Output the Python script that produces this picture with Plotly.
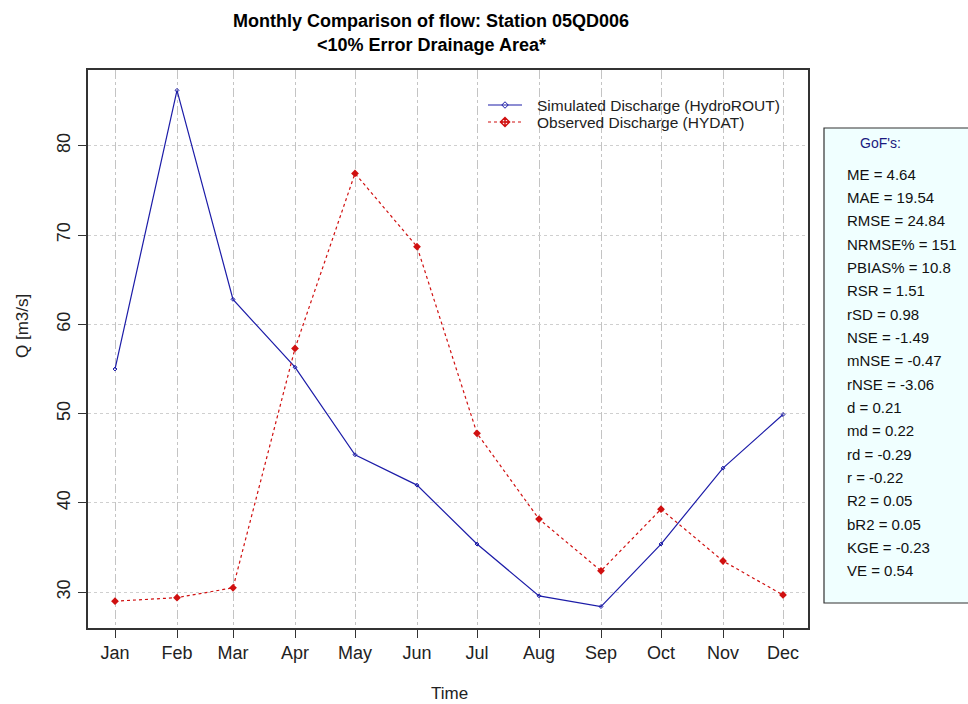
import plotly.graph_objects as go

# Monthly mean discharge, station 05QD006
months = ["Jan", "Feb", "Mar", "Apr", "May", "Jun",
          "Jul", "Aug", "Sep", "Oct", "Nov", "Dec"]
month_dates = ["2001-%02d-01" % m for m in range(1, 13)]

simulated = [55.0, 86.2, 62.8, 55.2, 45.4, 42.0, 35.4, 29.6, 28.4, 35.4, 43.9, 49.9]
observed = [29.0, 29.4, 30.5, 57.3, 76.9, 68.7, 47.8, 38.2, 32.4, 39.3, 33.5, 29.7]

y_ticks = [30, 40, 50, 60, 70, 80]

series_names = ["Simulated Discharge (HydroROUT)", "Observed Discharge (HYDAT)"]

# Goodness-of-fit statistics
gof_names = ["ME", "MAE", "RMSE", "NRMSE%", "PBIAS%", "RSR", "rSD", "NSE", "mNSE",
             "rNSE", "d", "md", "rd", "r", "R2", "bR2", "KGE", "VE"]
gof_values = ["4.64", "19.54", "24.84", "151", "10.8", "1.51", "0.98", "-1.49", "-0.47",
              "-3.06", "0.21", "0.22", "-0.29", "-0.22", "0.05", "0.05", "-0.23", "0.54"]

W, H = 968, 704
L, R, T, B = 88, 160, 70, 76
pw, ph = W - L - R, H - T - B

def px_x(x):
    return (x - L) / pw

def px_y(y):
    return (H - B - y) / ph

FONT = "Liberation Sans, Arial, sans-serif"
SIM_COLOR = "#1c1ca8"
OBS_COLOR = "#d01010"

sim_line = dict(color=SIM_COLOR, width=1.2)
obs_line = dict(color=OBS_COLOR, width=1.2, dash="dot")
sim_marker = dict(symbol="diamond-open", size=3, color=SIM_COLOR, line=dict(width=1))
obs_marker = dict(symbol="diamond", size=6, color=OBS_COLOR)

fig = go.Figure()
fig.add_trace(go.Scatter(
    x=month_dates, y=simulated, mode="lines+markers", name=series_names[0],
    line=sim_line, marker=sim_marker, showlegend=False,
))
fig.add_trace(go.Scatter(
    x=month_dates, y=observed, mode="lines+markers", name=series_names[1],
    line=obs_line, marker=obs_marker, showlegend=False,
))

# Legend key glyphs drawn on a hidden overlay axis in pixel units
legend_rows = [105, 122]
legend_markers = [dict(sim_marker, size=5),
                  dict(symbol="diamond-cross-open", size=7, color=OBS_COLOR,
                       line=dict(color=OBS_COLOR, width=1.5))]
legend_lines = [sim_line, obs_line]
for row, ln, mk in zip(legend_rows, legend_lines, legend_markers):
    fig.add_trace(go.Scatter(
        x=[488, 505, 522], y=[row, row, row], xaxis="x2", yaxis="y2",
        mode="lines", line=ln, showlegend=False, hoverinfo="skip",
    ))
    fig.add_trace(go.Scatter(
        x=[505], y=[row], xaxis="x2", yaxis="y2",
        mode="markers", marker=mk, showlegend=False, hoverinfo="skip",
    ))

fig.update_xaxes(
    type="date", range=["2000-12-18 12:00", "2001-12-13 12:00"],
    tickmode="array", tickvals=month_dates, ticktext=months,
    ticks="outside", ticklen=8, tickcolor="#333333", tickwidth=1,
    tickfont=dict(family=FONT, size=18, color="#222222"),
    showline=True, mirror=True, linecolor="#333333", linewidth=1.5,
    showgrid=True, gridcolor="#c4c4c4", griddash="dashdot", gridwidth=1,
    zeroline=False,
)
fig.update_yaxes(
    range=[26.0, 88.48], tickmode="array", tickvals=y_ticks,
    ticks="outside", ticklen=8, tickcolor="#333333", tickwidth=1,
    tickangle=-90, ticklabelstandoff=1,
    tickfont=dict(family=FONT, size=18, color="#222222"),
    showline=True, mirror=True, linecolor="#333333", linewidth=1.5,
    showgrid=True, gridcolor="#cfcfcf", griddash="dot", gridwidth=1,
    zeroline=False,
)

text_annots = [
    dict(text="<b>Monthly Comparison of flow: Station 05QD006</b>",
         x=px_x(431), y=px_y(21), font=dict(family=FONT, size=18, color="#000000")),
    dict(text="<b><10% Error Drainage Area*</b>",
         x=px_x(431), y=px_y(45), font=dict(family=FONT, size=18, color="#000000")),
    dict(text="Time", x=px_x(449), y=px_y(694),
         font=dict(family=FONT, size=17, color="#222222")),
    dict(text="Q [m3/s]", x=px_x(22), y=px_y(326), textangle=-90,
         font=dict(family=FONT, size=17, color="#222222")),
    dict(text="GoF's:", x=px_x(880), y=px_y(143),
         font=dict(family=FONT, size=14, color="#1a1a80")),
]
all_annots = []
for a in text_annots:
    a.update(xref="paper", yref="paper", showarrow=False,
             xanchor="center", yanchor="middle")
    all_annots.append(a)

for row, name in zip(legend_rows, series_names):
    all_annots.append(dict(
        text=name, x=px_x(535), y=px_y(row), xref="paper", yref="paper",
        showarrow=False, xanchor="left", yanchor="middle",
        font=dict(family=FONT, size=15.5, color="#222222"),
    ))

for i, (n, v) in enumerate(zip(gof_names, gof_values)):
    all_annots.append(dict(
        text="%s = %s" % (n, v), x=px_x(845), y=px_y(174 + i * 23.35),
        xref="paper", yref="paper", showarrow=False,
        xanchor="left", yanchor="middle",
        font=dict(family=FONT, size=15, color="#111111"),
    ))

fig.update_layout(
    width=W, height=H,
    margin=dict(l=L, r=R, t=T, b=B),
    paper_bgcolor="white", plot_bgcolor="white",
    showlegend=False,
    xaxis2=dict(overlaying="x", range=[L, W - R], visible=False, fixedrange=True),
    yaxis2=dict(overlaying="y", range=[H - B, T], visible=False, fixedrange=True),
    annotations=all_annots,
    shapes=[dict(
        type="rect", xref="paper", yref="paper",
        x0=px_x(824), x1=px_x(980), y0=px_y(603), y1=px_y(128),
        fillcolor="#f0ffff", line=dict(color="#333333", width=1.2),
        layer="below",
    )],
)

fig.write_html("out.html")
